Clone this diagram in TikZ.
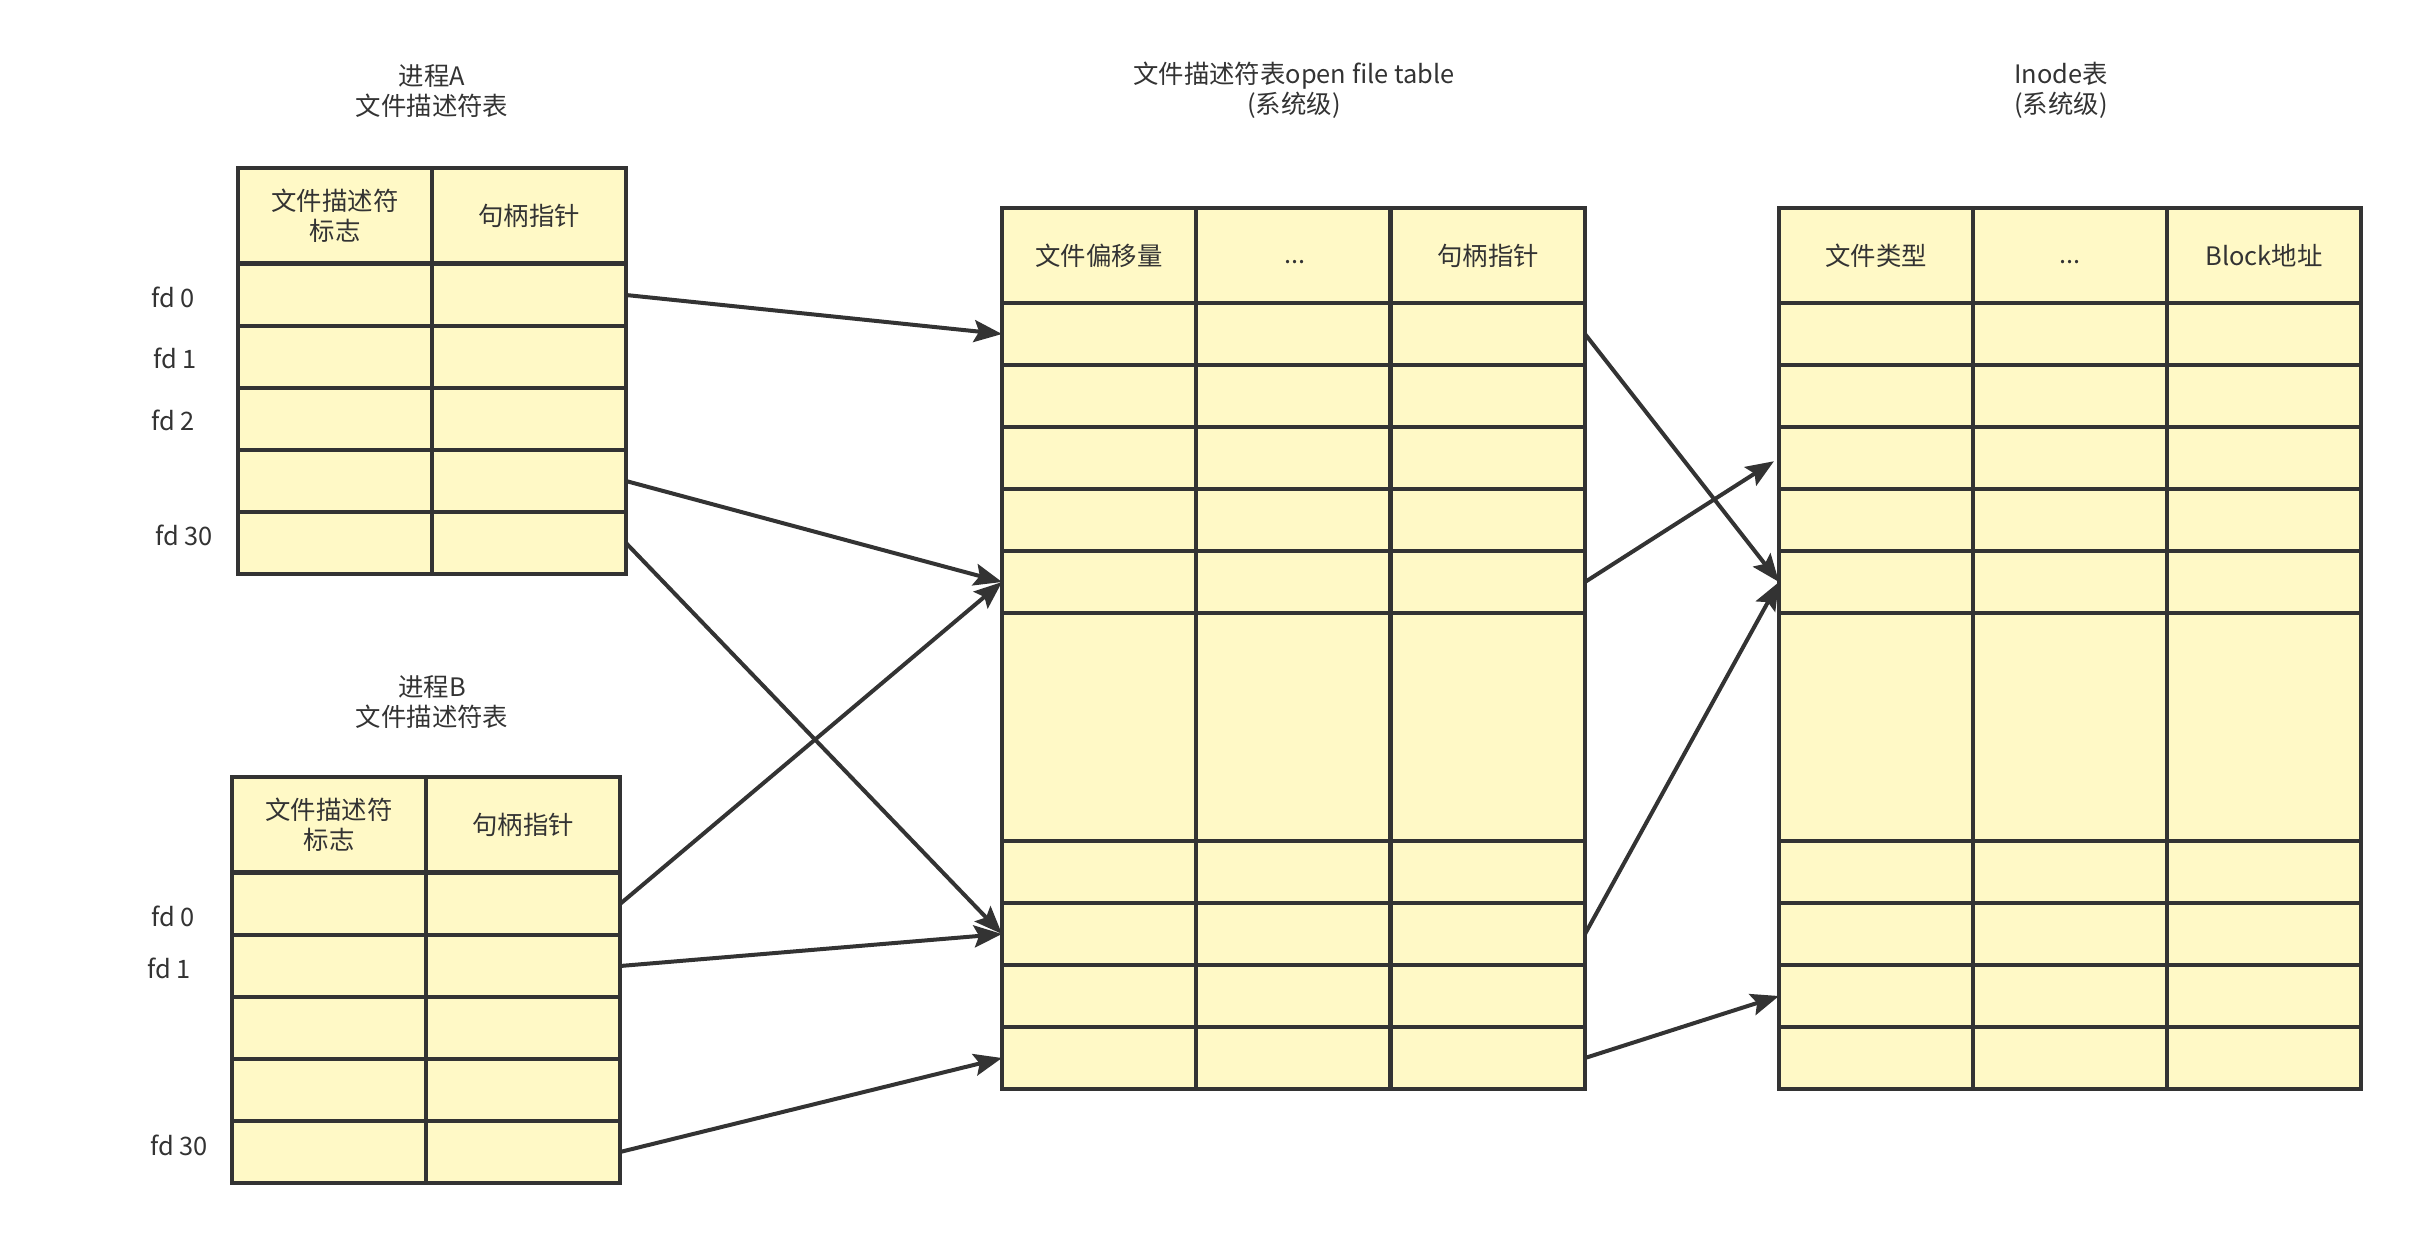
\documentclass[tikz,border=0pt]{standalone}
\usepackage{fontspec}
\setmainfont{Noto Sans CJK SC}
\usepackage{tikz}
\usetikzlibrary{arrows.meta}
\definecolor{cellyellow}{HTML}{FFF9C6}
\definecolor{inkgray}{HTML}{333333}

\begin{document}
\begin{tikzpicture}[x=.5pt,y=-.5pt,
  every node/.style={font=\fontsize{12.7}{15}\selectfont,text=inkgray},
  cell/.style={draw=inkgray,fill=cellyellow,line width=2pt,anchor=north west,
    minimum width=97pt,minimum height=31pt,inner sep=0pt,outer sep=0pt,align=center},
  head/.style={cell,minimum height=47.5pt},
  bigcell/.style={cell,minimum height=114pt},
  title/.style={align=center},
  ptr/.style={draw=inkgray,line width=2pt,-{Stealth[length=14pt,width=11pt,inset=2.5pt]}}]
  \useasboundingbox (0,0) rectangle (2411,1233);

  % process A
  \node[title] (ta) at (432,91) {进程A\\文件描述符表};
  \node[head] (ah-1) at (238,168) {文件描述符\\标志};
  \node[head] (ah-2) at (432,168) {句柄指针};
  \foreach \i/\y in {1/264,2/326,3/388,4/450,5/512} {
    \node[cell] (a\i-1) at (238,\y) {};
    \node[cell] (a\i-2) at (432,\y) {};
  }
  \node (fa0) at (173,297) {fd 0};
  \node (fa1) at (175,358) {fd 1};
  \node (fa2) at (173,420) {fd 2};
  \node (fa30) at (184,535) {fd 30};

  % process B
  \node[title] (tb) at (432,702) {进程B\\文件描述符表};
  \node[head] (bh-1) at (232,777) {文件描述符\\标志};
  \node[head] (bh-2) at (426,777) {句柄指针};
  \foreach \i/\y in {1/873,2/935,3/997,4/1059,5/1121} {
    \node[cell] (b\i-1) at (232,\y) {};
    \node[cell] (b\i-2) at (426,\y) {};
  }
  \node (fb0) at (173,916) {fd 0};
  \node (fb1) at (169,968) {fd 1};
  \node (fb30) at (179,1145) {fd 30};

  % open file table
  \node[title] (tf) at (1294,90) {文件描述符表open file table\\(系统级)};
  \node[head] (fh-1) at (1002,208) {文件偏移量};
  \node[head] (fh-2) at (1196,208) {};
  \node[head] (fh-3) at (1391,208) {句柄指针};
  \node (fdots) at (1295,262) {...};
  \foreach \i/\y/\s in {1/303/cell,2/365/cell,3/427/cell,4/489/cell,5/551/cell,
      6/613/bigcell,7/841/cell,8/903/cell,9/965/cell,10/1027/cell} {
    \node[\s] (f\i-1) at (1002,\y) {};
    \node[\s] (f\i-2) at (1196,\y) {};
    \node[\s] (f\i-3) at (1391,\y) {};
  }

  % inode table
  \node[title] (ti) at (2061,90) {Inode表\\(系统级)};
  \node[head] (ih-1) at (1779,208) {文件类型};
  \node[head] (ih-2) at (1973,208) {};
  \node[head] (ih-3) at (2167,208) {Block地址};
  \node (idots) at (2070,262) {...};
  \foreach \i/\y/\s in {1/303/cell,2/365/cell,3/427/cell,4/489/cell,5/551/cell,
      6/613/bigcell,7/841/cell,8/903/cell,9/965/cell,10/1027/cell} {
    \node[\s] (i\i-1) at (1779,\y) {};
    \node[\s] (i\i-2) at (1973,\y) {};
    \node[\s] (i\i-3) at (2167,\y) {};
  }

  % pointers
  \draw[ptr] (a1-2.east) -- (f1-1.west);
  \draw[ptr] (a4-2.east) -- (f5-1.west);
  \draw[ptr] (a5-2.east) -- (f8-1.west);
  \draw[ptr] (b1-2.east) -- (f5-1.west);
  \draw[ptr] (b2-2.east) -- (f8-1.west);
  \draw[ptr] (b5-2.east) -- (f10-1.west);
  \draw[ptr] (f1-3.east) -- (i5-1.west);
  \draw[ptr,shorten >=3pt] (f5-3.east) -- (i3-1.west);
  \draw[ptr] (f8-3.east) -- (i5-1.west);
  \draw[ptr] (f10-3.east) -- (i9-1.west);
\end{tikzpicture}
\end{document}
